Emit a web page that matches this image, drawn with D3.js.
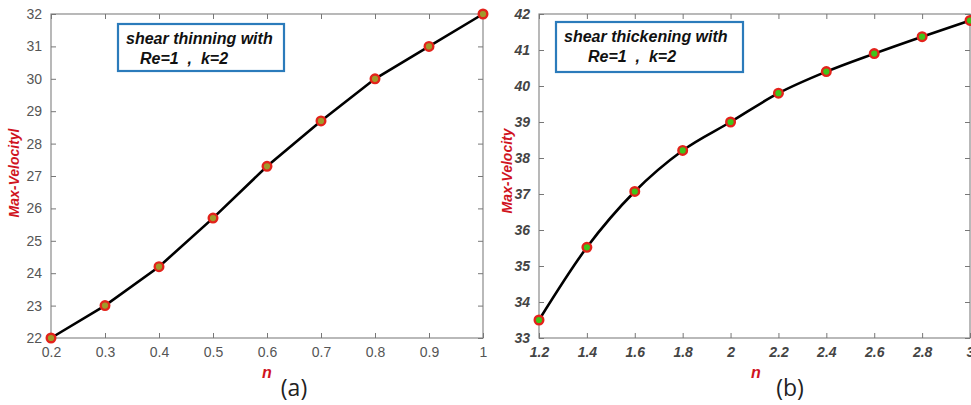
<!DOCTYPE html>
<html>
<head>
<meta charset="utf-8">
<script src="https://cdn.jsdelivr.net/npm/d3@7"></script>
<style>
  body { margin: 0; background: #fff; }
  svg { display: block; font-family: "Liberation Sans", Arial, sans-serif; }
  .axis .domain { display: none; }
  .axis line { stroke: #777; }
</style>
</head>
<body>
<svg id="chart" width="971" height="405"></svg>
<script>
// panel (a) shear thinning
var nThin = [0.2, 0.3, 0.4, 0.5, 0.6, 0.7, 0.8, 0.9, 1.0];
var velThin = [22, 23, 24.2, 25.7, 27.3, 28.7, 30, 31, 32];
var thinXTicks = [0.2, 0.3, 0.4, 0.5, 0.6, 0.7, 0.8, 0.9, 1];
var thinYTicks = [22, 23, 24, 25, 26, 27, 28, 29, 30, 31, 32];

// panel (b) shear thickening
var nThick = [1.2, 1.4, 1.6, 1.8, 2.0, 2.2, 2.4, 2.6, 2.8, 3.0];
var velThick = [33.5, 35.52, 37.07, 38.21, 39.0, 39.8, 40.4, 40.9, 41.37, 41.82];
var thickXTicks = [1.2, 1.4, 1.6, 1.8, 2, 2.2, 2.4, 2.6, 2.8, 3];
var thickYTicks = [33, 34, 35, 36, 37, 38, 39, 40, 41, 42];

var svg = d3.select("#chart");

function drawPanel(opt) {
  var g = svg.append("g");
  var x = d3.scaleLinear().domain(opt.xDomain).range([opt.left, opt.right]);
  var y = d3.scaleLinear().domain(opt.yDomain).range([opt.bottom, opt.top]);

  // frame
  g.append("rect")
    .attr("x", opt.left).attr("y", opt.top)
    .attr("width", opt.right - opt.left).attr("height", opt.bottom - opt.top)
    .attr("fill", "none").attr("stroke", "#8a8a8a").attr("stroke-width", 1.2);

  var fmt = function(d) { return d3.format("~g")(d); };

  // ticks point inward on all four sides
  var xb = g.append("g").attr("class", "axis")
    .attr("transform", "translate(0," + opt.bottom + ")")
    .call(d3.axisBottom(x).tickValues(opt.xTicks).tickSize(-5).tickPadding(9).tickFormat(fmt));
  g.append("g").attr("class", "axis")
    .attr("transform", "translate(0," + opt.top + ")")
    .call(d3.axisTop(x).tickValues(opt.xTicks).tickSize(-5).tickFormat(""));
  var yl = g.append("g").attr("class", "axis")
    .attr("transform", "translate(" + opt.left + ",0)")
    .call(d3.axisLeft(y).tickValues(opt.yTicks).tickSize(-5).tickPadding(9).tickFormat(fmt));
  g.append("g").attr("class", "axis")
    .attr("transform", "translate(" + opt.right + ",0)")
    .call(d3.axisRight(y).tickValues(opt.yTicks).tickSize(-5).tickFormat(""));

  [xb, yl].forEach(function(a) {
    a.selectAll("text")
      .style("font-size", "14px")
      .style("font-weight", opt.bold ? "bold" : "normal")
      .style("font-style", opt.bold ? "italic" : "normal")
      .attr("fill", opt.bold ? "#444" : "#555");
  });

  // line
  var data = opt.xs.map(function(v, i) { return {n: v, v: opt.ys[i]}; });
  var line = d3.line()
    .x(function(d) { return x(d.n); })
    .y(function(d) { return y(d.v); })
    .curve(opt.curve);
  g.append("path")
    .attr("d", line(data))
    .attr("fill", "none")
    .attr("stroke", "#000")
    .attr("stroke-width", 2.6);

  g.selectAll(".pt").data(data).enter().append("circle")
    .attr("cx", function(d) { return x(d.n); })
    .attr("cy", function(d) { return y(d.v); })
    .attr("r", 4.3)
    .attr("fill", opt.dotFill)
    .attr("stroke", "#e3231b")
    .attr("stroke-width", 2.4);

  // axis labels
  g.append("text")
    .attr("x", opt.nx).attr("y", 378)
    .attr("text-anchor", "middle")
    .attr("fill", "#d0141e")
    .style("font-size", "16px").style("font-weight", "bold").style("font-style", "italic")
    .text("n");
  g.append("text")
    .attr("transform", "translate(" + opt.ylx + "," + opt.yly + ")rotate(-90)")
    .attr("text-anchor", "middle")
    .attr("fill", "#d0141e")
    .style("font-size", "14px").style("font-weight", "bold").style("font-style", "italic")
    .text(opt.yLabel);
  g.append("text")
    .attr("x", opt.capx).attr("y", 396)
    .attr("text-anchor", "middle")
    .attr("fill", "#222")
    .style("font-size", "23px")
    .style("font-family", "'Open Sans', 'DejaVu Sans', sans-serif")
    .text(opt.caption);

  // legend box
  var b = opt.box;
  g.append("rect")
    .attr("x", b.x).attr("y", b.y).attr("width", b.w).attr("height", b.h)
    .attr("fill", "#fff").attr("stroke", "#2b7bbb").attr("stroke-width", 2.2);
  g.append("text")
    .attr("x", b.t1x).attr("y", b.y + 20)
    .style("font-size", "16px").style("font-weight", "bold").style("font-style", "italic")
    .attr("fill", "#111")
    .text(opt.boxLine1);
  g.append("text")
    .attr("x", b.t2x).attr("y", b.y + 40)
    .style("font-size", "16px").style("font-weight", "bold").style("font-style", "italic")
    .attr("fill", "#111")
    .attr("xml:space", "preserve")
    .text("Re=1  ,  k=2");
}

drawPanel({
  xDomain: [0.2, 1.0], yDomain: [22, 32],
  left: 51, right: 483, top: 14, bottom: 338,
  xTicks: thinXTicks, yTicks: thinYTicks,
  xs: nThin, ys: velThin, curve: d3.curveLinear,
  bold: false, dotFill: "#a09a2a",
  nx: 267, ylx: 19, yly: 173, capx: 294, caption: "(a)",
  yLabel: "Max-Velocityl",
  box: {x: 118, y: 24, w: 166, h: 47, t1x: 126, t2x: 140},
  boxLine1: "shear thinning with"
});

drawPanel({
  xDomain: [1.2, 3.0], yDomain: [33, 42],
  left: 539, right: 970, top: 14, bottom: 338,
  xTicks: thickXTicks, yTicks: thickYTicks,
  xs: nThick, ys: velThick, curve: d3.curveMonotoneX,
  bold: true, dotFill: "#3fc41a",
  nx: 756, ylx: 512, yly: 171, capx: 790, caption: "(b)",
  yLabel: "Max-Velocity",
  box: {x: 556, y: 22, w: 187, h: 50, t1x: 564, t2x: 588},
  boxLine1: "shear thickening with"
});
</script>
</body>
</html>
